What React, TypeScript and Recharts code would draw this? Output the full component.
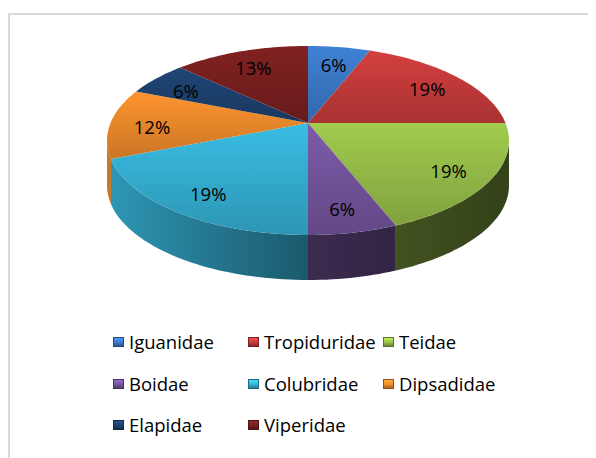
import React from 'react';
import { PieChart, Pie, Legend } from 'recharts';

const families = ['Iguanidae', 'Tropiduridae', 'Teidae', 'Boidae', 'Colubridae', 'Dipsadidae', 'Elapidae', 'Viperidae'];
const shares = [6, 19, 19, 6, 19, 12, 6, 13];
const colors = ['#3b7bc9', '#c83b3b', '#98c04a', '#7656a0', '#36b2d6', '#f08c2c', '#1d4270', '#7a1f1f'];

const data = families.map((name, i) => ({ name, value: shares[i] }));

const W = 588;
const H = 450;

// fake 3d: perspective-tilted disc
const RX = 197.5;
const RY = 91.3;
const TILT = 0.185;
const DEPTH = 45;
const SIL = (Math.asin(TILT) * 180) / Math.PI;

function shade(hex: string, f: number) {
    const n = parseInt(hex.slice(1), 16);
    const c = [(n >> 16) & 255, (n >> 8) & 255, n & 255].map((v) => Math.max(0, Math.min(255, Math.round(v * f))));
    return `rgb(${c[0]},${c[1]},${c[2]})`;
}

function project(cx: number, cy: number, r: number, deg: number) {
    const rad = (deg * Math.PI) / 180;
    const u = r * Math.cos(rad);
    const v = -r * Math.sin(rad);
    const d = 1 - TILT * v;
    return [cx + (RX * u) / d, cy + (RY * v) / d];
}

function arc(cx: number, cy: number, from: number, to: number, dy = 0) {
    const n = Math.max(2, Math.ceil(Math.abs(from - to) / 1.5));
    const pts: string[] = [];
    for (let i = 0; i <= n; i++) {
        const [x, y] = project(cx, cy, 1, from + ((to - from) * i) / n);
        pts.push(`${x.toFixed(2)},${(y + dy).toFixed(2)}`);
    }
    return pts;
}

function Slice3D(props: any) {
    const { cx, cy, startAngle, endAngle } = props;
    let idx = props.index;
    if (idx === undefined) idx = families.indexOf(props.name ?? props.payload?.name);
    const a = Math.max(startAngle, endAngle);
    const b = Math.min(startAngle, endAngle);
    const lo = Math.max(b, -180 + SIL);
    const hi = Math.min(a, -SIL);
    let side = null;
    if (hi > lo) {
        const top = arc(cx, cy, hi, lo);
        const bottom = arc(cx, cy, lo, hi, DEPTH);
        side = <path d={`M${top.join('L')}L${bottom.join('L')}Z`} fill={`url(#side-${idx})`} />;
    }
    const topPts = arc(cx, cy, startAngle, endAngle);
    return (
        <g>
            {side}
            <path d={`M${cx},${cy}L${topPts.join('L')}Z`} fill={`url(#top-${idx})`} />
        </g>
    );
}

function renderLabel(props: any) {
    const { cx, cy, midAngle, percent } = props;
    const [x, y] = project(cx, cy, 0.79, midAngle);
    return (
        <text x={x} y={y + 3} fill="#000" fontSize={18.5} fontFamily="Open Sans" textAnchor="middle" dominantBaseline="central">
            {`${Math.round(percent * 100)}%`}
        </text>
    );
}

function renderLegend() {
    return (
        <div style={{ position: 'relative', width: W, height: 130 }}>
            {families.map((name, i) => {
                const col = i % 3;
                const row = Math.floor(i / 3);
                return (
                    <div
                        key={name}
                        style={{
                            position: 'absolute',
                            left: 105 + col * 135,
                            top: row * 41.5,
                            display: 'flex',
                            alignItems: 'center',
                            fontFamily: 'Open Sans',
                            fontSize: 18.5,
                            color: '#000',
                            whiteSpace: 'nowrap',
                            lineHeight: '24px',
                        }}
                    >
                        <span
                            style={{
                                display: 'inline-block',
                                width: 11,
                                height: 10,
                                marginRight: 5,
                                background: `linear-gradient(${shade(colors[i], 1.25)}, ${colors[i]} 55%, ${shade(colors[i], 0.7)})`,
                                border: `1px solid ${shade(colors[i], 0.6)}`,
                                boxSizing: 'border-box',
                            }}
                        />
                        {name}
                    </div>
                );
            })}
        </div>
    );
}

export default function App() {
    return (
        <div style={{ position: 'relative', width: W, height: H, overflow: 'hidden', background: '#fff' }}>
            <div
                style={{
                    position: 'absolute',
                    left: 0,
                    top: 5,
                    width: W + 20,
                    height: H + 20,
                    border: '2px solid #dadada',
                    boxSizing: 'border-box',
                }}
            />
            <div style={{ position: 'absolute', left: 0, top: 0 }}>
                <PieChart width={W} height={H}>
                    <defs>
                        {colors.map((c, i) => (
                            <linearGradient key={`t${i}`} id={`top-${i}`} x1="0" y1="0" x2="0" y2="1">
                                <stop offset="0%" stopColor={shade(c, 1.06)} />
                                <stop offset="100%" stopColor={shade(c, 0.84)} />
                            </linearGradient>
                        ))}
                        {colors.map((c, i) => (
                            <linearGradient key={`s${i}`} id={`side-${i}`} gradientUnits="userSpaceOnUse" x1="99" y1="0" x2="501" y2="0">
                                <stop offset="0%" stopColor={shade(c, 0.85)} />
                                <stop offset="50%" stopColor={shade(c, 0.5)} />
                                <stop offset="100%" stopColor={shade(c, 0.34)} />
                            </linearGradient>
                        ))}
                    </defs>
                    <Pie
                        data={data}
                        dataKey="value"
                        nameKey="name"
                        cx={295}
                        cy={110}
                        outerRadius={100}
                        startAngle={90}
                        endAngle={-270}
                        stroke="none"
                        shape={Slice3D}
                        label={renderLabel}
                        labelLine={false}
                        isAnimationActive={false}
                    />
                    <Legend
                        content={renderLegend}
                        wrapperStyle={{ left: 0, top: 322, width: W, height: 130 }}
                    />
                </PieChart>
            </div>
        </div>
    );
}
